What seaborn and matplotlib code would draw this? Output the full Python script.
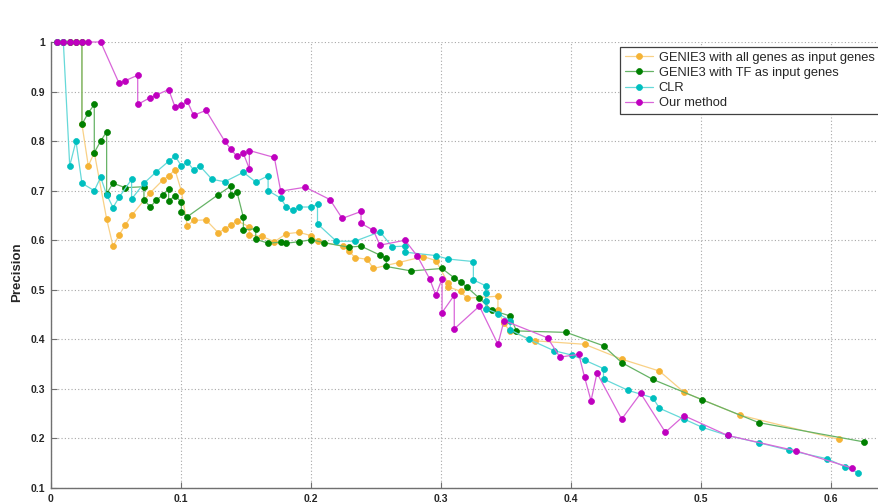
import pandas as pd
import matplotlib
matplotlib.use("Agg")
import matplotlib.pyplot as plt
import seaborn as sns
from matplotlib.colors import to_rgb

# ---- data (recall, precision) ----
genie_all_x = [0.0048, 0.0095, 0.0144, 0.0192, 0.0238, 0.0238, 0.0287, 0.0333, 0.0428, 0.0477,
               0.0525, 0.0572, 0.062, 0.0764, 0.0859, 0.0905, 0.0954, 0.1003, 0.1049, 0.1097,
               0.1192, 0.1287, 0.1336, 0.1382, 0.1431, 0.1526, 0.1526, 0.1623, 0.1718, 0.181,
               0.1908, 0.2003, 0.205, 0.2244, 0.229, 0.2338, 0.2433, 0.248, 0.2675, 0.2864,
               0.296, 0.3056, 0.3056, 0.315, 0.320, 0.3438, 0.3438, 0.3485, 0.3533, 0.3723,
               0.4105, 0.439, 0.468, 0.487, 0.530, 0.6064]
genie_all_y = [1, 1, 1, 1, 1, 0.834, 0.750, 0.777, 0.643, 0.588,
               0.611, 0.631, 0.650, 0.696, 0.721, 0.730, 0.742, 0.699, 0.629, 0.640,
               0.641, 0.615, 0.623, 0.630, 0.639, 0.627, 0.610, 0.608, 0.597, 0.613,
               0.616, 0.609, 0.598, 0.588, 0.579, 0.565, 0.5615, 0.543, 0.555, 0.567,
               0.559, 0.513, 0.506, 0.497, 0.483, 0.487, 0.459, 0.432, 0.416, 0.397,
               0.390, 0.360, 0.336, 0.293, 0.247, 0.198]

genie_tf_x = [0.0048, 0.0095, 0.0144, 0.0192, 0.0238, 0.0238, 0.0287, 0.0333, 0.0333, 0.0382,
              0.0428, 0.0428, 0.0477, 0.0572, 0.0715, 0.0715, 0.0764, 0.081, 0.0859, 0.0905,
              0.0905, 0.0954, 0.1003, 0.1003, 0.1049, 0.1287, 0.1382, 0.1382, 0.1431, 0.148,
              0.148, 0.1575, 0.1575, 0.167, 0.1767, 0.181, 0.1908, 0.2003, 0.210, 0.229,
              0.2385, 0.253, 0.258, 0.258, 0.277, 0.3008, 0.3102, 0.315, 0.320, 0.3295,
              0.339, 0.3533, 0.358, 0.3964, 0.425, 0.439, 0.463, 0.501, 0.5443, 0.6254]
genie_tf_y = [1, 1, 1, 1, 1, 0.834, 0.857, 0.874, 0.777, 0.800,
              0.819, 0.694, 0.715, 0.706, 0.708, 0.682, 0.667, 0.681, 0.691, 0.703,
              0.679, 0.690, 0.677, 0.657, 0.6475, 0.692, 0.709, 0.691, 0.697, 0.646,
              0.621, 0.623, 0.602, 0.594, 0.596, 0.594, 0.597, 0.601, 0.595, 0.586,
              0.588, 0.570, 0.564, 0.547, 0.538, 0.543, 0.524, 0.516, 0.505, 0.483,
              0.459, 0.447, 0.417, 0.414, 0.387, 0.353, 0.319, 0.278, 0.232, 0.193]

clr_x = [0.0048, 0.0095, 0.0144, 0.0192, 0.0238, 0.0333, 0.0382, 0.0428, 0.0477, 0.0525,
         0.062, 0.062, 0.0715, 0.081, 0.0908, 0.0954, 0.1003, 0.1049, 0.1097, 0.1144,
         0.1238, 0.1336, 0.148, 0.1575, 0.167, 0.167, 0.1767, 0.181, 0.186, 0.1908,
         0.2003, 0.205, 0.205, 0.2195, 0.2338, 0.253, 0.2625, 0.2723, 0.2723, 0.296,
         0.3056, 0.3249, 0.3249, 0.3344, 0.3344, 0.3344, 0.3344, 0.3438, 0.3533, 0.3533,
         0.3677, 0.387, 0.401, 0.4105, 0.425, 0.425, 0.444, 0.463, 0.468, 0.487,
         0.501, 0.5205, 0.5443, 0.568, 0.597, 0.611, 0.6208]
clr_y = [1, 1, 0.750, 0.800, 0.715, 0.700, 0.727, 0.692, 0.666, 0.687,
         0.723, 0.683, 0.715, 0.738, 0.760, 0.770, 0.750, 0.758, 0.742, 0.750,
         0.723, 0.718, 0.737, 0.7175, 0.730, 0.700, 0.685, 0.667, 0.661, 0.667,
         0.667, 0.673, 0.633, 0.598, 0.598, 0.617, 0.587, 0.588, 0.576, 0.569,
         0.562, 0.557, 0.520, 0.508, 0.494, 0.477, 0.462, 0.452, 0.438, 0.419,
         0.400, 0.377, 0.368, 0.358, 0.341, 0.320, 0.297, 0.282, 0.261, 0.239,
         0.2225, 0.206, 0.1915, 0.176, 0.159, 0.1425, 0.131]

ours_x = [0.0048, 0.0095, 0.0144, 0.0192, 0.0238, 0.0287, 0.0382, 0.0523, 0.0572, 0.0667,
          0.0667, 0.0764, 0.081, 0.0905, 0.0954, 0.1003, 0.1049, 0.1097, 0.1192, 0.1336,
          0.1382, 0.1431, 0.148, 0.1526, 0.1526, 0.1718, 0.1767, 0.1956, 0.2146, 0.224,
          0.2385, 0.2385, 0.248, 0.253, 0.2723, 0.2818, 0.2913, 0.296, 0.3008, 0.3008,
          0.3102, 0.3102, 0.3295, 0.3438, 0.3485, 0.382, 0.3915, 0.406, 0.4105, 0.4154,
          0.420, 0.439, 0.4536, 0.4726, 0.4869, 0.5205, 0.573, 0.616]
ours_y = [1, 1, 1, 1, 1, 1, 1, 0.917, 0.922, 0.933,
          0.874, 0.888, 0.893, 0.904, 0.869, 0.873, 0.880, 0.852, 0.862, 0.800,
          0.784, 0.769, 0.775, 0.744, 0.781, 0.767, 0.699, 0.707, 0.682, 0.644,
          0.658, 0.634, 0.620, 0.590, 0.600, 0.568, 0.522, 0.489, 0.522, 0.454,
          0.489, 0.421, 0.467, 0.390, 0.438, 0.403, 0.364, 0.370, 0.323, 0.276,
          0.332, 0.239, 0.291, 0.2125, 0.246, 0.206, 0.175, 0.1405]

series = [
    ("GENIE3 with all genes as input genes", genie_all_x, genie_all_y, "#f5b335"),
    ("GENIE3 with TF as input genes", genie_tf_x, genie_tf_y, "#008000"),
    ("CLR", clr_x, clr_y, "#00bfbf"),
    ("Our method", ours_x, ours_y, "#bf00bf"),
]

x_ticks = [0, 0.1, 0.2, 0.3, 0.4, 0.5, 0.6]
x_labels = ["0", "0.1", "0.2", "0.3", "0.4", "0.5", "0.6"]
y_ticks = [0.1, 0.2, 0.3, 0.4, 0.5, 0.6, 0.7, 0.8, 0.9, 1.0]
y_labels = ["0.1", "0.2", "0.3", "0.4", "0.5", "0.6", "0.7", "0.8", "0.9", "1"]

sns.set_style("ticks")
plt.rcParams["font.family"] = ["Liberation Sans", "DejaVu Sans"]


def lighten(c, amt=0.4):
    r, g, b = to_rgb(c)
    return (r + (1 - r) * amt, g + (1 - g) * amt, b + (1 - b) * amt)


fig = plt.figure(figsize=(8.79, 5.03), dpi=100)
ax = fig.add_axes([51 / 879, 15 / 503, 1 - 51 / 879, 446 / 503])

for name, xs, ys, col in series:
    df = pd.DataFrame({"recall": xs, "precision": ys})
    sns.lineplot(data=df, x="recall", y="precision", ax=ax, sort=False, estimator=None,
                 color=lighten(col), linewidth=0.9, marker="o", markersize=4.3,
                 markerfacecolor=col, markeredgecolor=col, markeredgewidth=0.5,
                 label=name, clip_on=False, zorder=3)

ax.set_xlim(0, 828 / 1300)
ax.set_ylim(0.1, 1.0)
ax.set_xticks(x_ticks)
ax.set_xticklabels(x_labels)
ax.set_yticks(y_ticks)
ax.set_yticklabels(y_labels)
ax.set_xlabel("")
ax.set_ylabel("Precision", fontsize=9.5, fontweight="bold")
ax.yaxis.set_label_coords(-0.034, 0.485)

for lab in ax.get_xticklabels() + ax.get_yticklabels():
    lab.set_fontweight("bold")
    lab.set_fontsize(7.5)
ax.tick_params(direction="in", length=4, width=0.8, color="#707070", pad=4)

ax.grid(True, color="#a8a8a8", linestyle=(0, (1, 2)), linewidth=0.8)
ax.set_axisbelow(True)
for side in ["top", "right"]:
    ax.spines[side].set_visible(False)
for side in ["left", "bottom"]:
    ax.spines[side].set_color("#707070")
    ax.spines[side].set_linewidth(1.0)

leg = ax.legend(loc="upper left", bbox_to_anchor=(620 / 879, 1 - 47 / 503),
                bbox_transform=fig.transFigure, fontsize=9.3, frameon=True,
                fancybox=False, edgecolor="#404040", framealpha=1,
                handlelength=2.2, handletextpad=0.45, labelspacing=0.25,
                borderpad=0.35, borderaxespad=0)
leg.get_frame().set_linewidth(0.9)

fig.savefig("out.png", dpi=100)
